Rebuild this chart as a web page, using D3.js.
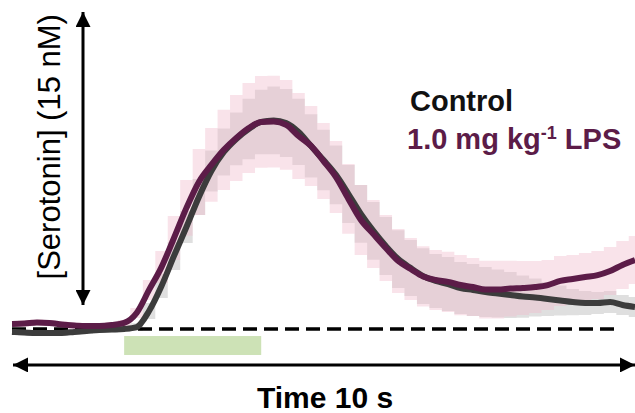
<!DOCTYPE html>
<html>
<head>
<meta charset="utf-8">
<script src="https://cdn.jsdelivr.net/npm/d3@7"></script>
<style>
  body { margin: 0; background: #fff; }
  svg { display: block; font-family: "Liberation Sans", Arial, sans-serif; }
</style>
</head>
<body>
<div id="chart"></div>
<script>
// time (s), sampled every 0.2 s
var time = [0, 0.2, 0.4, 0.6, 0.8, 1.0, 1.2, 1.4, 1.6, 1.8, 2.0, 2.2, 2.4, 2.6, 2.8, 3.0, 3.2, 3.4, 3.6, 3.8,
    4.0, 4.2, 4.4, 4.6, 4.8, 5.0, 5.2, 5.4, 5.6, 5.8, 6.0, 6.2, 6.4, 6.6, 6.8, 7.0, 7.2, 7.4, 7.6, 7.8,
    8.0, 8.2, 8.4, 8.6, 8.8, 9.0, 9.2, 9.4, 9.6, 9.8, 10.0];

// [serotonin] (nM), mean and SEM
var controlMean = [-0.15, -0.18, -0.20, -0.20, -0.20, -0.15, -0.10, -0.05, -0.03, 0.00, 0.10, 0.92, 2.20, 3.74, 5.22, 6.76, 8.09, 9.06, 9.73, 10.24,
    10.60, 10.68, 10.55, 10.09, 9.37, 8.65, 7.89, 6.91, 5.89, 5.02, 4.25, 3.58, 3.12, 2.71, 2.46, 2.30, 2.10, 2.00, 1.89, 1.82,
    1.74, 1.66, 1.61, 1.54, 1.46, 1.38, 1.33, 1.33, 1.38, 1.23, 1.13];
var controlErr = [0.15, 0.15, 0.15, 0.15, 0.15, 0.15, 0.15, 0.15, 0.15, 0.15, 0.20, 0.41, 0.61, 0.72, 0.82, 0.92, 1.05, 1.20, 1.35, 1.55,
    1.65, 1.74, 1.74, 1.70, 1.62, 1.55, 1.50, 1.48, 1.48, 1.48, 1.48, 1.48, 1.43, 1.43, 1.38, 1.38, 1.33, 1.33, 1.28, 1.23,
    1.18, 1.08, 0.97, 0.87, 0.77, 0.67, 0.61, 0.56, 0.56, 0.51, 0.51];

var lpsMean = [0.26, 0.28, 0.33, 0.31, 0.23, 0.18, 0.15, 0.15, 0.20, 0.31, 0.82, 2.00, 3.17, 4.66, 6.20, 7.53, 8.40, 9.17, 9.78, 10.29,
    10.60, 10.62, 10.45, 9.88, 9.37, 8.60, 7.78, 6.66, 5.58, 4.86, 4.15, 3.48, 3.07, 2.69, 2.51, 2.41, 2.25, 2.15, 2.02, 2.02,
    2.07, 2.10, 2.15, 2.25, 2.46, 2.56, 2.66, 2.76, 2.97, 3.28, 3.53];
var lpsErr = [0.15, 0.15, 0.15, 0.15, 0.15, 0.15, 0.15, 0.15, 0.15, 0.15, 0.26, 0.51, 0.82, 1.13, 1.43, 1.69, 1.89, 2.05, 2.20, 2.30,
    2.35, 2.35, 2.30, 2.20, 2.05, 1.95, 1.84, 1.79, 1.79, 1.74, 1.69, 1.64, 1.59, 1.54, 1.54, 1.54, 1.54, 1.48, 1.48, 1.48,
    1.43, 1.38, 1.33, 1.28, 1.28, 1.23, 1.23, 1.23, 1.23, 1.23, 1.23];

// stimulation window (s)
var stimWindow = [1.8, 4.0];
// scale bar: 15 nM, drawn from this value upward
var scaleBarValue = 15;
var scaleBarStart = 1.23;

function main() {

    var width = 635, height = 413;

    var svg = d3.select("#chart")
        .append("svg")
        .attr("width", width)
        .attr("height", height);

    var x = d3.scaleLinear().domain([0, 10]).range([12, 635]);
    var y = d3.scaleLinear().domain([0, 15]).range([329, 36]);

    // arrow heads
    var defs = svg.append("defs");
    defs.append("marker")
        .attr("id", "arrow")
        .attr("viewBox", "0 0 10 10")
        .attr("refX", 10).attr("refY", 5)
        .attr("markerUnits", "userSpaceOnUse")
        .attr("markerWidth", 17).attr("markerHeight", 15)
        .attr("orient", "auto-start-reverse")
        .append("path")
        .attr("d", "M0,0 L10,5 L0,10 Z")
        .attr("fill", "#000");

    var control = time.map(function (t, i) { return { t: t, m: controlMean[i], e: controlErr[i] }; });
    var lps = time.map(function (t, i) { return { t: t, m: lpsMean[i], e: lpsErr[i] }; });

    var band = d3.area()
        .curve(d3.curveStep)
        .x(function (d) { return x(d.t); })
        .y0(function (d) { return y(d.m - d.e); })
        .y1(function (d) { return y(d.m + d.e); });

    var line = d3.line()
        .curve(d3.curveMonotoneX)
        .x(function (d) { return x(d.t); })
        .y(function (d) { return y(d.m); });

    // error bands
    svg.append("path").datum(control)
        .attr("d", band)
        .attr("fill", "rgba(185, 185, 185, 0.45)");
    svg.append("path").datum(lps)
        .attr("d", band)
        .attr("fill", "rgba(240, 188, 204, 0.42)");

    // baseline
    svg.append("line")
        .attr("x1", x(0)).attr("x2", x(9.75))
        .attr("y1", y(0)).attr("y2", y(0))
        .attr("stroke", "#000")
        .attr("stroke-width", 3.5)
        .attr("stroke-dasharray", "14,7");

    // mean traces
    svg.append("path").datum(control)
        .attr("d", line)
        .attr("fill", "none")
        .attr("stroke", "#3c3c3c")
        .attr("stroke-width", 6)
        .attr("stroke-linejoin", "round");
    svg.append("path").datum(lps)
        .attr("d", line)
        .attr("fill", "none")
        .attr("stroke", "#5c1c48")
        .attr("stroke-width", 6)
        .attr("stroke-linejoin", "round");

    // stimulation bar
    svg.append("rect")
        .attr("x", x(stimWindow[0]))
        .attr("y", y(-0.36))
        .attr("width", x(stimWindow[1]) - x(stimWindow[0]))
        .attr("height", y(-1.33) - y(-0.36))
        .attr("fill", "#cde2b6");

    // time arrow
    svg.append("line")
        .attr("x1", x(0) + 1).attr("x2", x(10))
        .attr("y1", y(-1.84)).attr("y2", y(-1.84))
        .attr("stroke", "#000")
        .attr("stroke-width", 3)
        .attr("marker-start", "url(#arrow)")
        .attr("marker-end", "url(#arrow)");

    svg.append("text")
        .attr("x", 325)
        .attr("y", 408)
        .attr("text-anchor", "middle")
        .style("font-size", "30px")
        .style("font-weight", "bold")
        .text("Time 10 s");

    // concentration scale bar
    svg.append("line")
        .attr("x1", 83).attr("x2", 83)
        .attr("y1", y(scaleBarStart)).attr("y2", y(scaleBarStart + scaleBarValue))
        .attr("stroke", "#000")
        .attr("stroke-width", 3)
        .attr("marker-start", "url(#arrow)")
        .attr("marker-end", "url(#arrow)");

    svg.append("text")
        .attr("transform", "translate(60," + y(scaleBarStart + scaleBarValue / 2 + 0.6) + ") rotate(-90)")
        .attr("text-anchor", "middle")
        .style("font-size", "31px")
        .text("[Serotonin] (" + scaleBarValue + " nM)");

    // legend
    svg.append("text")
        .attr("x", 410).attr("y", 111)
        .style("font-size", "29px")
        .style("font-weight", "bold")
        .attr("fill", "#111")
        .text("Control");

    var lpsLabel = svg.append("text")
        .attr("x", 407).attr("y", 149)
        .style("font-size", "29px")
        .style("font-weight", "bold")
        .attr("fill", "#5c1c48");
    lpsLabel.append("tspan").text("1.0 mg kg");
    lpsLabel.append("tspan").attr("dy", -10).style("font-size", "18px").text("-1");
    lpsLabel.append("tspan").attr("dy", 10).text(" LPS");
}
window.addEventListener('load', main);
</script>
</body>
</html>
